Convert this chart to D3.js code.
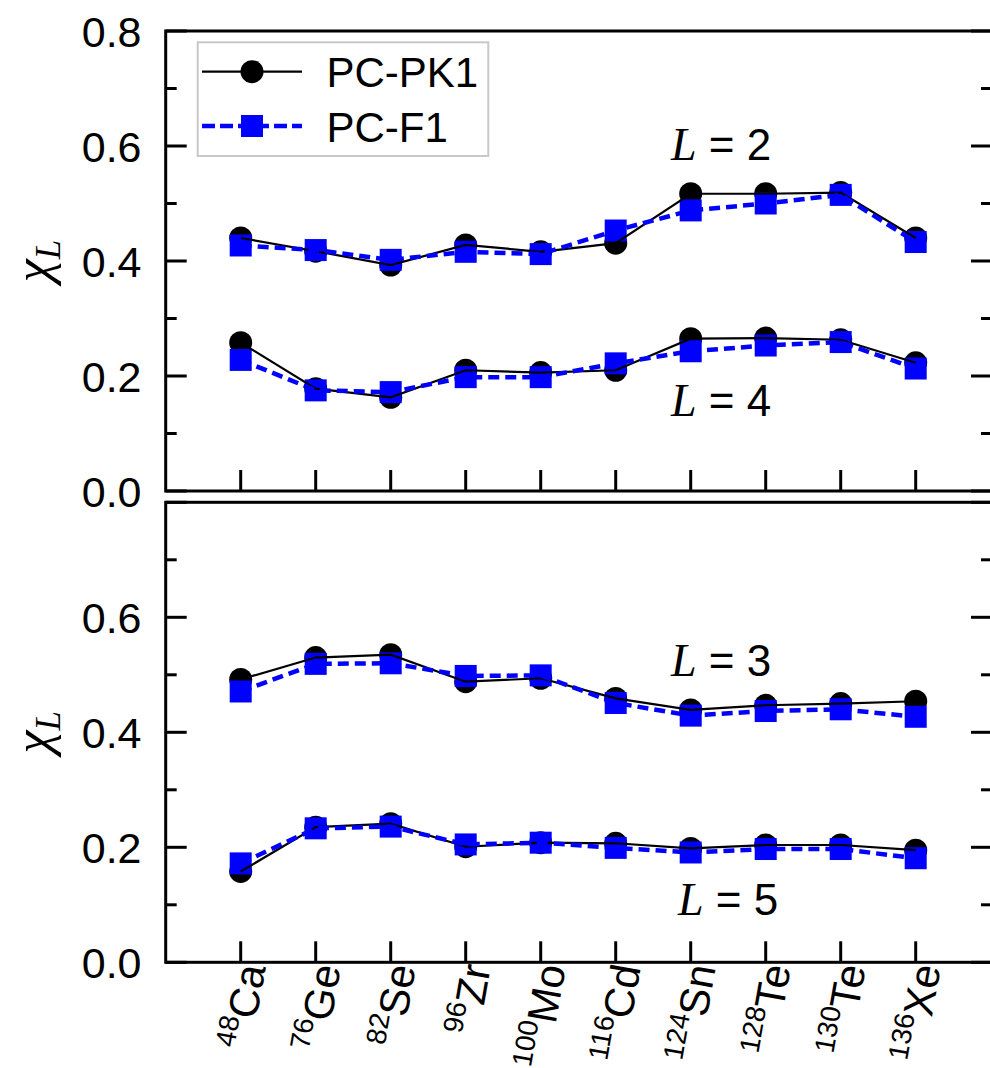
<!DOCTYPE html>
<html>
<head>
<meta charset="utf-8">
<script src="https://cdn.jsdelivr.net/npm/d3@7"></script>
<style>
  html, body { margin: 0; padding: 0; background: #fff; }
  svg { display: block; }
  text { font-family: "Liberation Sans", Arial, sans-serif; fill: #000; }
  .serif { font-family: "Liberation Serif", "Times New Roman", serif; font-style: italic; }
</style>
</head>
<body>
<svg id="chart" width="990" height="1068"></svg>
<script>
// Nuclei on the x axis
const massNumbers = ["48", "76", "82", "96", "100", "116", "124", "128", "130", "136"];
const elements    = ["Ca", "Ge", "Se", "Zr", "Mo", "Cd", "Sn", "Te", "Te", "Xe"];

// chi_L for the two parameter sets
const pk1L2 = [0.440, 0.417, 0.393, 0.428, 0.416, 0.431, 0.517, 0.517, 0.519, 0.440];
const f1L2  = [0.427, 0.419, 0.402, 0.416, 0.412, 0.453, 0.488, 0.500, 0.515, 0.433];
const pk1L4 = [0.258, 0.178, 0.163, 0.210, 0.206, 0.210, 0.265, 0.266, 0.263, 0.223];
const f1L4  = [0.228, 0.175, 0.172, 0.198, 0.198, 0.222, 0.243, 0.253, 0.259, 0.213];
const pk1L3 = [0.492, 0.530, 0.535, 0.488, 0.494, 0.459, 0.439, 0.447, 0.450, 0.454];
const f1L3  = [0.471, 0.519, 0.520, 0.498, 0.499, 0.451, 0.429, 0.437, 0.440, 0.427];
const pk1L5 = [0.158, 0.235, 0.241, 0.201, 0.208, 0.207, 0.198, 0.204, 0.204, 0.195];
const f1L5  = [0.172, 0.233, 0.236, 0.205, 0.208, 0.199, 0.191, 0.197, 0.197, 0.181];

const seriesNames = ["PC-PK1", "PC-F1"];
const majorTicks = [0, 0.2, 0.4, 0.6, 0.8];
const minorTicks = [0.1, 0.3, 0.5, 0.7];

const svg = d3.select("#chart");
const BLUE = "#0000ff";

const x = d3.scaleLinear().domain([-1, 10]).range([165.7, 990.7]);
const left = 165.7, right = 992;

const panels = [
  { top: 31,    bottom: 491,   upper: [pk1L2, f1L2], lower: [pk1L4, f1L4],
    labels: [0, 0.2, 0.4, 0.6, 0.8],
    notes: [{ L: "2", v: 0.575, dx: 0 }, { L: "4", v: 0.13, dx: 0 }], xLabels: false },
  { top: 502.3, bottom: 962.3, upper: [pk1L3, f1L3], lower: [pk1L5, f1L5],
    labels: [0, 0.2, 0.4, 0.6],
    notes: [{ L: "3", v: 0.498, dx: 0 }, { L: "5", v: 0.083, dx: 7 }], xLabels: true }
];

panels.forEach(p => {
  const y = d3.scaleLinear().domain([0, 0.8]).range([p.bottom, p.top]);
  const g = svg.append("g");

  // frame
  g.append("rect")
    .attr("x", left).attr("y", p.top)
    .attr("width", right - left).attr("height", p.bottom - p.top)
    .attr("fill", "none").attr("stroke", "#000").attr("stroke-width", 3);

  // y ticks, inward on both sides
  const yt = g.append("g").attr("stroke", "#000").attr("stroke-width", 3);
  majorTicks.forEach(v => {
    yt.append("line").attr("x1", left).attr("x2", left + 21).attr("y1", y(v)).attr("y2", y(v));
    yt.append("line").attr("x1", right).attr("x2", right - 21).attr("y1", y(v)).attr("y2", y(v));
  });
  minorTicks.forEach(v => {
    yt.append("line").attr("x1", left).attr("x2", left + 11).attr("y1", y(v)).attr("y2", y(v));
    yt.append("line").attr("x1", right).attr("x2", right - 11).attr("y1", y(v)).attr("y2", y(v));
  });

  // x ticks, inward from the bottom
  d3.range(elements.length).forEach(i => {
    yt.append("line").attr("x1", x(i)).attr("x2", x(i)).attr("y1", p.bottom).attr("y2", p.bottom - 21);
  });

  // y tick labels
  p.labels.forEach(v => {
    g.append("text")
      .attr("x", 141.5).attr("y", y(v) + 15.5)
      .attr("text-anchor", "end")
      .attr("font-size", 43)
      .text(d3.format(".1f")(v));
  });

  // axis title chi_L
  const t = g.append("text")
    .attr("class", "serif")
    .attr("transform", `translate(50,${(p.top + p.bottom) / 2}) rotate(-90)`)
    .attr("text-anchor", "middle");
  t.append("tspan").attr("font-size", 52).text("χ");
  t.append("tspan").attr("font-size", 35).attr("dy", 10).text("L");

  // series
  const line = d3.line().x((d, i) => x(i)).y(d => y(d));
  [p.upper, p.lower].forEach(([pk1, f1]) => {
    // PC-PK1 symbols
    g.append("g").selectAll("circle").data(pk1).join("circle")
      .attr("cx", (d, i) => x(i)).attr("cy", d => y(d)).attr("r", 11.5)
      .attr("fill", "#000");
    // PC-F1 symbols
    g.append("g").selectAll("rect").data(f1).join("rect")
      .attr("x", (d, i) => x(i) - 11).attr("y", d => y(d) - 11)
      .attr("width", 22).attr("height", 22)
      .attr("fill", BLUE);
    g.append("path").datum(pk1).attr("d", line)
      .attr("fill", "none").attr("stroke", "#000").attr("stroke-width", 2.2);
    g.append("path").datum(f1).attr("d", line)
      .attr("fill", "none").attr("stroke", BLUE).attr("stroke-width", 4.5)
      .attr("stroke-dasharray", "11,6");
  });

  // L annotations
  p.notes.forEach(n => {
    const a = g.append("text").attr("x", 671 + n.dx).attr("y", y(n.v)).attr("font-size", 44);
    a.append("tspan").attr("class", "serif").attr("font-size", 46).text("L");
    a.append("tspan").text(" = " + n.L);
  });

  // nucleus labels
  if (p.xLabels) {
    d3.range(elements.length).forEach(i => {
      const lab = g.append("text")
        .attr("transform", `translate(${x(i) + 25},${p.bottom + 5}) rotate(-80)`)
        .attr("text-anchor", "end");
      lab.append("tspan").attr("font-size", 28).attr("dy", -17).text(massNumbers[i]);
      lab.append("tspan").attr("font-size", 42).attr("dy", 17).text(elements[i]);
    });
  }
});

// legend
const lg = svg.append("g");
lg.append("rect").attr("x", 197.7).attr("y", 42.3).attr("width", 290.6).attr("height", 113.7)
  .attr("fill", "#fff").attr("stroke", "#c8c8c8").attr("stroke-width", 2);
const rows = [71.7, 126];
lg.append("line").attr("x1", 202).attr("x2", 302).attr("y1", rows[0]).attr("y2", rows[0])
  .attr("stroke", "#000").attr("stroke-width", 2.2);
lg.append("circle").attr("cx", 252).attr("cy", rows[0]).attr("r", 11.5).attr("fill", "#000");
lg.append("line").attr("x1", 202).attr("x2", 302).attr("y1", rows[1]).attr("y2", rows[1])
  .attr("stroke", BLUE).attr("stroke-width", 4.5).attr("stroke-dasharray", "13,5");
lg.append("rect").attr("x", 241).attr("y", rows[1] - 11).attr("width", 22).attr("height", 22).attr("fill", BLUE);
seriesNames.forEach((s, i) => {
  lg.append("text").attr("x", 326.5).attr("y", rows[i] + 15.5).attr("font-size", 42).text(s);
});
</script>
</body>
</html>
